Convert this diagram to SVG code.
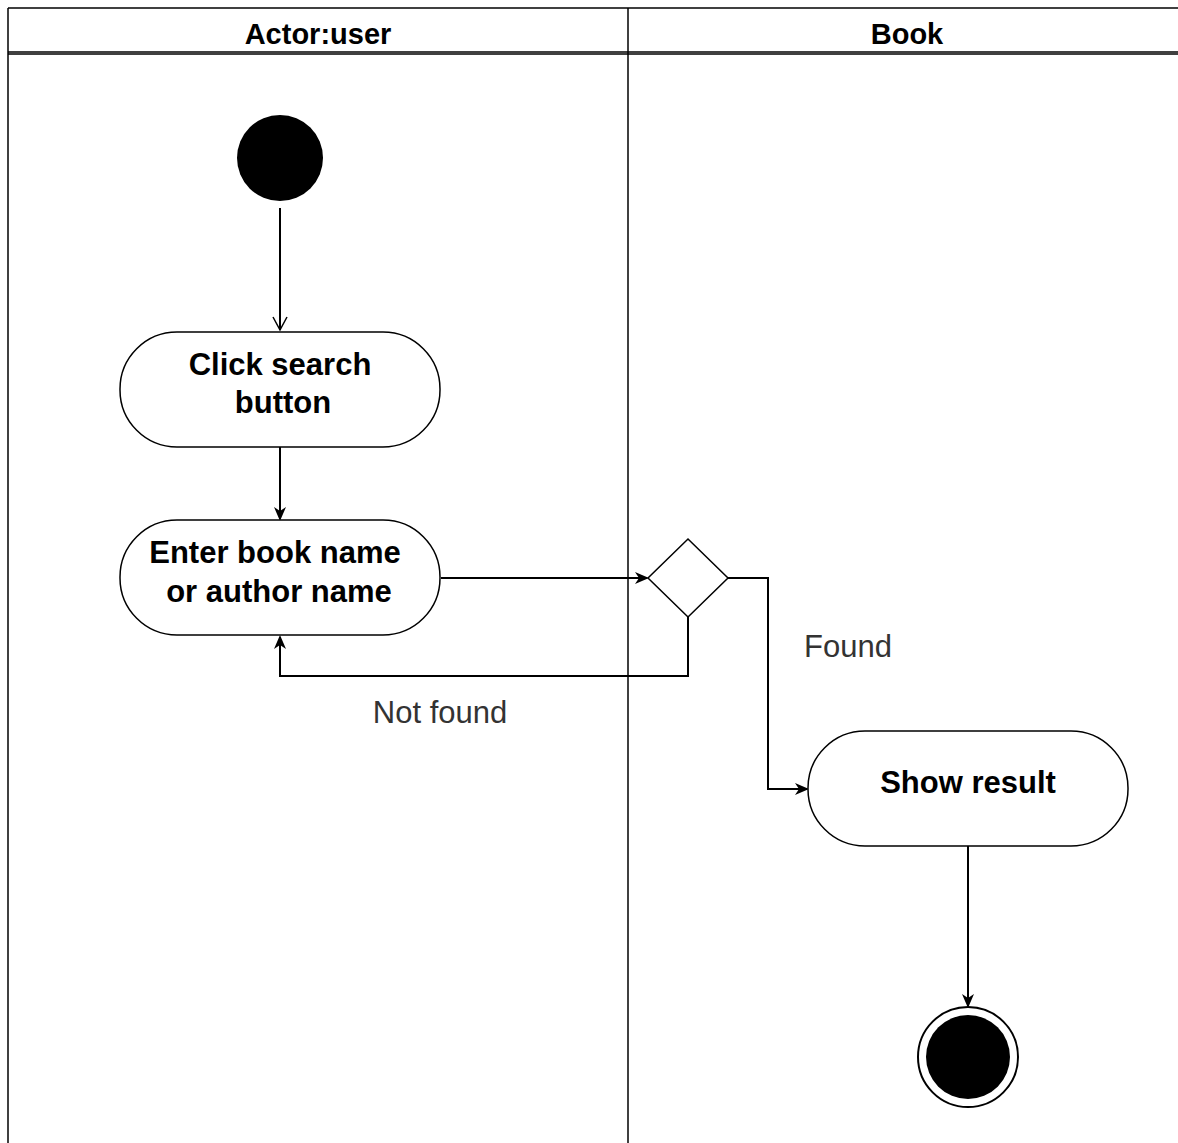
<svg xmlns="http://www.w3.org/2000/svg" width="1178" height="1143" viewBox="0 0 1178 1143">
<style>
.lane{fill:none;stroke:#000;stroke-width:1.5}
.hdr{font-family:"Liberation Sans",Arial,sans-serif;font-size:29px;font-weight:bold;fill:#000;text-anchor:middle}
.act{fill:#fff;stroke:#000;stroke-width:1.5}
.atxt{font-family:"Liberation Sans",Arial,sans-serif;font-size:31px;font-weight:bold;fill:#000;text-anchor:middle}
.lbl{font-family:"Liberation Sans",Arial,sans-serif;font-size:31px;fill:#333;text-anchor:middle}
.edge{fill:none;stroke:#000;stroke-width:2}
</style>
<defs>
<marker id="fill" markerWidth="14" markerHeight="14" refX="12" refY="7" orient="auto" markerUnits="userSpaceOnUse"><path d="M0,1 L14,7 L0,13 L4,7 Z" fill="#000"/></marker>
<marker id="open" markerWidth="16" markerHeight="16" refX="14" refY="8" orient="auto" markerUnits="userSpaceOnUse"><path d="M1,1 L14,8 L1,15" fill="none" stroke="#000" stroke-width="1.5"/></marker>
</defs>
<rect width="1178" height="1143" fill="#fff"/>
<g id="swimlanes">
<line class="lane" x1="8" y1="8" x2="1178" y2="8"/>
<line class="lane" x1="8" y1="52" x2="1178" y2="52"/>
<line class="lane" x1="8" y1="54" x2="1178" y2="54"/>
<line class="lane" x1="8" y1="8" x2="8" y2="1143"/>
<line class="lane" x1="628" y1="8" x2="628" y2="1143"/>
<text class="hdr" x="318" y="44">Actor:user</text>
<text class="hdr" x="907" y="44">Book</text>
</g>
<g id="connectors">
<path class="edge" d="M280,208 L280,330" marker-end="url(#open)" stroke-width="1.5"/>
<path class="edge" d="M280,447 L280,519" marker-end="url(#fill)"/>
<path class="edge" d="M441,578 L647,578" marker-end="url(#fill)"/>
<path class="edge" d="M728,578 L768,578 L768,789 L807,789" marker-end="url(#fill)"/>
<path class="edge" d="M688,616 L688,676 L280,676 L280,637" marker-end="url(#fill)"/>
<path class="edge" d="M968,846 L968,1006" marker-end="url(#fill)"/>
<text class="lbl" x="848" y="657">Found</text>
<text class="lbl" x="440" y="723">Not found</text>
</g>
<g id="start"><circle cx="280" cy="158" r="43" fill="#000"/></g>
<g id="click-search">
<rect class="act" x="120" y="332" width="320" height="115" rx="57" ry="57"/>
<text class="atxt" x="280" y="375">Click search</text>
<text class="atxt" x="283" y="413">button</text>
</g>
<g id="enter-book">
<rect class="act" x="120" y="520" width="320" height="115" rx="57" ry="57"/>
<text class="atxt" x="275" y="563">Enter book name</text>
<text class="atxt" x="279" y="602">or author name</text>
</g>
<g id="decision">
<polygon class="act" points="688,539 728,578 688,617 648,578"/>
</g>
<g id="show-result">
<rect class="act" x="808" y="731" width="320" height="115" rx="57" ry="57"/>
<text class="atxt" x="968" y="793">Show result</text>
</g>
<g id="end">
<circle cx="968" cy="1057" r="50" fill="#fff" stroke="#000" stroke-width="2"/>
<circle cx="968" cy="1057" r="42" fill="#000"/>
</g>
</svg>
